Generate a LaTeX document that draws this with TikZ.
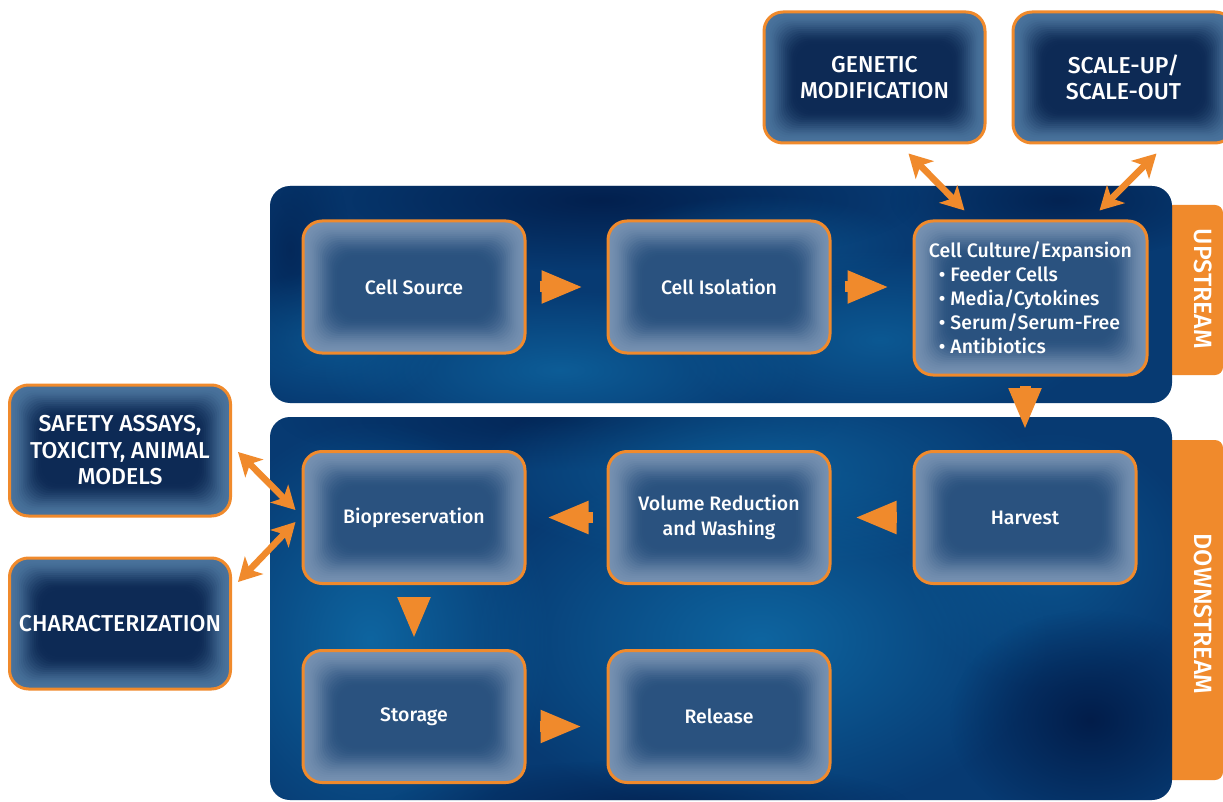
\documentclass[tikz,border=0pt]{standalone}
\usepackage{fontspec}
\setmainfont{Fira Sans}
\newfontfamily\medfont{Fira Sans Medium}
\usetikzlibrary{arrows.meta,fadings}
\definecolor{org}{HTML}{F08A2C}
\definecolor{boxin}{HTML}{2A527F}
\definecolor{boxout}{HTML}{7590B0}
\definecolor{obin}{HTML}{0D2A55}
\definecolor{obout}{HTML}{4A739C}
\definecolor{panA}{HTML}{073A72}
\definecolor{panB}{HTML}{0E65A0}
\definecolor{panD}{HTML}{021D4A}
\tikzfading[name=blob, inner color=transparent!0, outer color=transparent!100]
\tikzset{
  boxbase/.style={rounded corners=19pt, draw=org, line width=3pt, text=white, align=center, inner sep=0pt},
  stepbox/.style={boxbase, fill=boxout, minimum width=222pt, minimum height=132pt,
    font=\medfont\fontsize{19.5}{25}\selectfont,
    path picture={
      \foreach \k in {0,...,19}{
        \pgfmathsetmacro\mix{50*(1-cos(180*\k/19))}
        \fill[boxin!\mix!boxout, rounded corners=18pt]
          ([xshift=1.9pt*\k, yshift=1.9pt*\k]path picture bounding box.south west) rectangle
          ([xshift=-1.9pt*\k, yshift=-1.9pt*\k]path picture bounding box.north east);
      }}},
  sidebox/.style={boxbase, fill=obout, minimum width=221pt, minimum height=131pt,
    font=\medfont\fontsize{23}{26.5}\selectfont,
    path picture={
      \foreach \k in {0,...,17}{
        \pgfmathsetmacro\mix{50*(1-cos(180*\k/17))}
        \fill[obin!\mix!obout, rounded corners=18pt]
          ([xshift=1.9pt*\k, yshift=1.9pt*\k]path picture bounding box.south west) rectangle
          ([xshift=-1.9pt*\k, yshift=-1.9pt*\k]path picture bounding box.north east);
      }}},
  blockarrow/.style={draw=org, line width=11pt, -{Triangle[length=42pt,width=30pt]}},
  dblarrow/.style={draw=org, line width=6.5pt, {Stealth[length=23pt,width=25pt,inset=6pt]}-{Stealth[length=23pt,width=25pt,inset=6pt]}},
  tabtext/.style={text=white, font=\medfont\fontsize{25}{28}\selectfont, rotate=-90},
  lightblob/.style={fill=panB, path fading=blob},
  darkblob/.style={fill=panD, path fading=blob}
}
\begin{document}
\begin{tikzpicture}[x=1pt,y=-1pt]
\clip (0,0) rectangle (1223,802);
\fill[white] (0,0) rectangle (1223,802);
% tabs
\fill[org, rounded corners=8pt] (1150,205) rectangle (1223,375);
\fill[org, rounded corners=8pt] (1150,440) rectangle (1223,780);
\node[tabtext] (uptab) at (1203,289) {UPSTREAM};
\node[tabtext] (downtab) at (1203,614) {DOWNSTREAM};
% panels
\fill[panA, rounded corners=20pt] (270,186) rectangle (1172,403);
\fill[panA, rounded corners=20pt] (270,417) rectangle (1172,800);
\begin{scope}
\clip[rounded corners=20pt] (270,186) rectangle (1172,403);
\fill[darkblob, fill opacity=0.9] (600,200) ellipse (320 and 70);
\fill[darkblob, fill opacity=0.8] (1060,200) ellipse (170 and 60);
\fill[darkblob, fill opacity=0.6] (290,250) ellipse (60 and 120);
\fill[lightblob, fill opacity=0.8] (560,370) ellipse (240 and 80);
\fill[lightblob, fill opacity=0.7] (880,340) ellipse (210 and 90);
\fill[lightblob, fill opacity=0.6] (330,340) ellipse (120 and 70);
\fill[lightblob, fill opacity=0.5] (760,245) ellipse (150 and 50);
\end{scope}
\begin{scope}
\clip[rounded corners=20pt] (270,417) rectangle (1172,800);
\fill[darkblob, fill opacity=0.7] (560,420) ellipse (280 and 50);
\fill[lightblob] (370,640) ellipse (180 and 220);
\fill[lightblob] (760,640) ellipse (290 and 180);
\fill[lightblob, fill opacity=0.8] (760,470) ellipse (280 and 100);
\fill[lightblob, fill opacity=0.6] (1050,560) ellipse (150 and 130);
\fill[darkblob] (1090,720) ellipse (140 and 110);
\fill[darkblob, fill opacity=0.7] (650,805) ellipse (260 and 45);
\end{scope}
% outer boxes
\node[sidebox] (gm) at (874.5,77.5) {GENETIC\\MODIFICATION};
\node[sidebox] (su) at (1123.5,77.5) {SCALE-UP/\\SCALE-OUT};
\node[sidebox] (sa) at (120,450.5) {SAFETY ASSAYS,\\TOXICITY, ANIMAL\\MODELS};
\node[sidebox] (ch) at (120,623.5) {CHARACTERIZATION};
% process boxes
\node[stepbox] (cs) at (414,287) {Cell Source};
\node[stepbox] (ci) at (719,287) {Cell Isolation};
\node[stepbox, minimum width=233pt, minimum height=154pt, align=left, font=\medfont\fontsize{19.5}{24}\selectfont] (cc) at (1030.5,298)
  {Cell Culture/Expansion\\\hspace*{10pt}• Feeder Cells\\\hspace*{10pt}• Media/Cytokines\\\hspace*{10pt}• Serum/Serum-Free\\\hspace*{10pt}• Antibiotics};
\node[stepbox] (hv) at (1025,517.5) {Harvest};
\node[stepbox] (vr) at (719,517.5) {Volume Reduction\\and Washing};
\node[stepbox] (bp) at (414,517.5) {Biopreservation};
\node[stepbox] (st) at (414,716.5) {Storage};
\node[stepbox] (rl) at (719,716.5) {Release};
% block arrows
\draw[blockarrow, shorten <=13pt, shorten >=23pt] (cs.east) -- (ci.west);
\draw[blockarrow, shorten <=13pt, shorten >=23pt] (ci.east) -- (ci.east -| cc.west);
\draw[blockarrow, shorten <=9pt, shorten >=20pt] (cc.south -| hv.north) -- (hv.north);
\draw[blockarrow, shorten <=16pt, shorten >=23pt] (hv.west) -- (vr.east);
\draw[blockarrow, shorten <=14pt, shorten >=20pt] (vr.west) -- (bp.east);
\draw[blockarrow, shorten <=12pt, shorten >=10pt] (bp.south) -- (st.north);
\draw[blockarrow, shorten <=13pt, shorten >=24pt] ([yshift=-10pt]st.east) -- ([yshift=-10pt]rl.west);
% double arrows
\draw[dblarrow] ([xshift=34pt,yshift=-9pt]gm.south) -- ([xshift=-66pt,yshift=9pt]cc.north);
\draw[dblarrow] ([xshift=33pt,yshift=-9pt]su.south) -- ([xshift=69pt,yshift=9pt]cc.north);
\draw[dblarrow] ([xshift=6pt,yshift=-1.5pt]sa.east) -- ([xshift=-6pt,yshift=7.5pt]bp.west);
\draw[dblarrow] ([xshift=6pt,yshift=41.5pt]ch.east) -- ([xshift=-6pt,yshift=-4.5pt]bp.west);
\end{tikzpicture}
\end{document}
